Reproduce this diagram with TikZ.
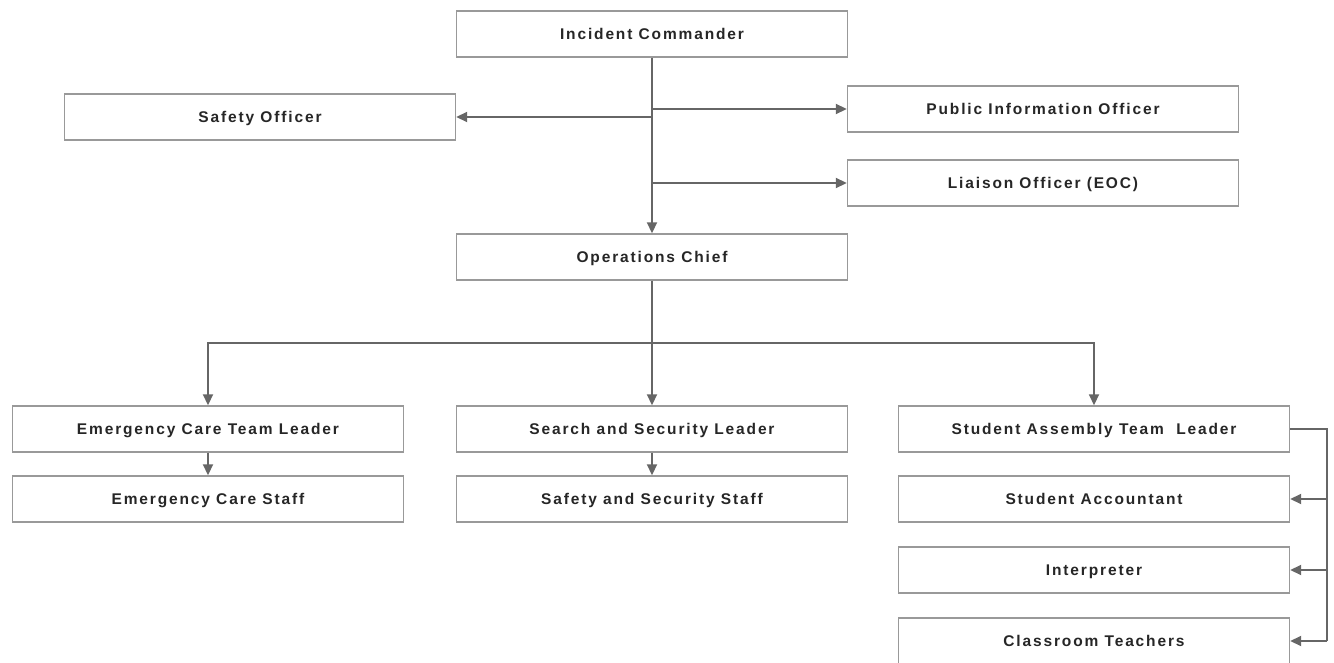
\documentclass[tikz,border=0pt]{standalone}
\usepackage{fontspec}
\setmainfont{Liberation Sans}[LetterSpace=12]
\usetikzlibrary{arrows.meta}

\begin{document}
\begin{tikzpicture}[x=1pt, y=-1pt,
    role/.style = {draw = black!40, line width = 1.4pt, fill = white,
        minimum width = 391pt, minimum height = 46pt,
        text height = 11.5pt, text depth = 0pt,
        text = black!85, font = \fontsize{15.5}{18}\selectfont\bfseries},
    link/.style = {draw = black!60, line width = 1.8pt,
        -{Triangle[length = 11pt, width = 10pt]}}]

    \useasboundingbox (0,0) rectangle (1334,663);

    \node[role] (ic) at (652,34) {Incident Commander};
    \node[role] (so) at (260,117) {Safety Officer};
    \node[role] (pio) at (1043,109) {Public Information Officer};
    \node[role] (lo) at (1043,183) {Liaison Officer (EOC)};
    \node[role] (oc) at (652,257) {Operations Chief};

    \node[role] (ectl) at (208,429) {Emergency Care Team Leader};
    \node[role] (ecs) at (208,499) {Emergency Care Staff};
    \node[role] (ssl) at (652,429) {Search and Security Leader};
    \node[role] (sss) at (652,499) {Safety and Security Staff};
    \node[role] (satl) at (1094,429) {Student Assembly Team\ \ Leader};
    \node[role] (sa) at (1094,499) {Student Accountant};
    \node[role] (ip) at (1094,570) {Interpreter};
    \node[role] (ct) at (1094,641) {Classroom Teachers};

    \coordinate (split) at (652,343);
    \coordinate (side) at (1327,429);

      \draw[link] (ic) -- (oc);
      \draw[link] (ic.south |- so) -- (so);
      \draw[link] (ic.south |- pio.west) -- (pio);
      \draw[link] (ic.south |- lo.west) -- (lo);

      \draw[link] (oc) -- (ssl);
      \draw[link] (split) -| (ectl);
      \draw[link] (split) -| (satl);

      \draw[link] (ectl) -- (ecs);
      \draw[link] (ssl) -- (sss);

      \draw[link, -] (satl) -- (side) -- (side |- ct);
      \draw[link] (side |- sa) -- (sa);
      \draw[link] (side |- ip) -- (ip);
      \draw[link] (side |- ct) -- (ct);
  \end{tikzpicture}
\end{document}
